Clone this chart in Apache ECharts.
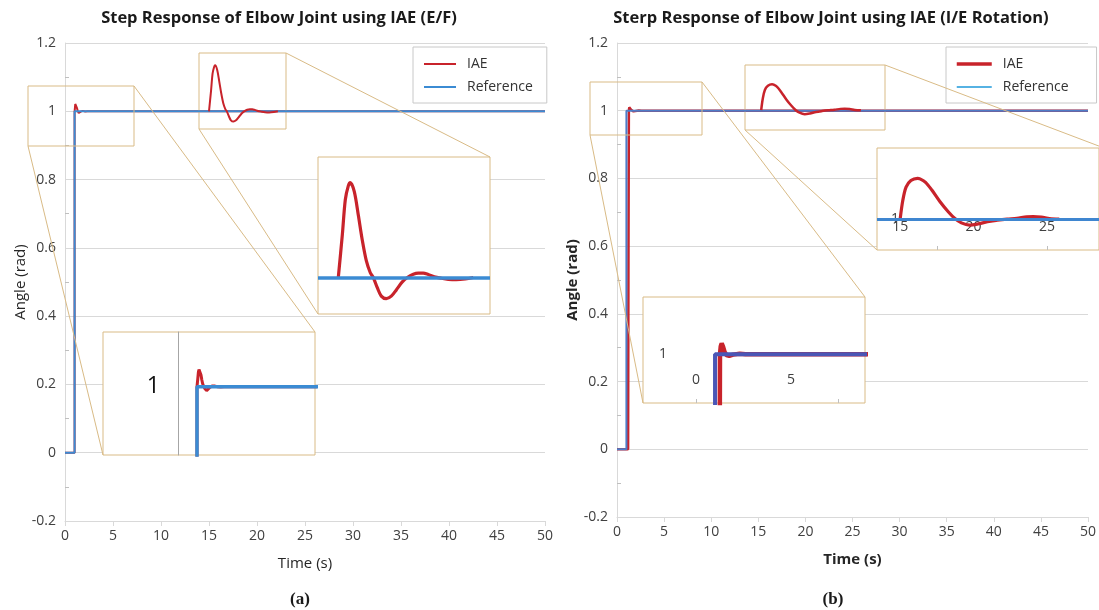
<!DOCTYPE html>
<html>
<head>
<meta charset="utf-8">
<script src="https://cdn.jsdelivr.net/npm/echarts@6/dist/echarts.min.js"></script>
<style>
    html, body { margin: 0; padding: 0; background: #fff; }
    #main { width: 1099px; height: 610px; }
</style>
</head>
<body>
<div id="main"></div>
<script>
// axis ticks of both main plots
var timeTicks = [0, 5, 10, 15, 20, 25, 30, 35, 40, 45, 50];
var angleTicks = [-0.2, 0, 0.2, 0.4, 0.6, 0.8, 1, 1.2];

// reference step (s, rad), same for both joints
var refT = [0, 1, 1, 50];
var refV = [0, 0, 1, 1];

// IAE response, E/F (s, rad)
var iaeLeftT = [0, 1.00, 1.00, 1.04, 1.07, 1.10, 1.12, 1.16, 1.20, 1.24, 1.28, 1.32, 1.35, 1.39, 1.43,
    1.48, 1.53, 1.58, 1.64, 1.69, 1.75, 1.80, 1.85, 1.90, 1.96, 2.03, 2.10, 2.18, 2.27, 2.35, 50];
var iaeLeftV = [0, 0, 1.0, 1.0116, 1.0213, 1.0251, 1.0260, 1.0235, 1.0171, 1.0102, 1.0046, 1.0013, 1.0, 0.9972, 0.9949,
    0.9942, 0.9949, 0.9966, 0.9988, 1.0, 1.0009, 1.0012, 1.0012, 1.0008, 1.0002, 0.9998, 0.9995, 0.9994, 0.9996, 1.0, 1.0];

// IAE response, I/E rotation (s, rad)
var iaeRightT = [0, 1.18, 1.22, 1.26, 1.30, 1.35, 1.42, 1.50, 1.60, 1.75, 1.95, 2.30, 2.60, 50];
var iaeRightV = [0, 0, 0.6, 1.0, 1.010, 1.014, 1.010, 1.003, 0.999, 0.998, 0.9995, 1.0007, 1.0, 1.0];

// I/E rotation overshoot as printed in the zoom box (box axis units)
var zoomRightT = [15.00, 15.18, 15.40, 15.73, 16.18, 16.35, 16.73, 17.17, 17.73, 18.29, 18.73, 19.17,
    19.73, 20.29, 20.95, 21.62, 22.29, 22.95, 23.62, 24.07, 24.62, 25.18, 25.84];
var zoomRightV = [1.0, 1.0065, 1.0111, 1.0134, 1.0142, 1.0140, 1.0128, 1.0100, 1.0059, 1.0024, 1.0001, 0.9986,
    0.9978, 0.9982, 0.9990, 0.9995, 0.9999, 1.0002, 1.0007, 1.0008, 1.0006, 1.0001, 0.9999];

var FONT = '"Open Sans", "Liberation Sans", sans-serif';
var TAN = '#d9bb86';
var RED = '#c8232b';
var BLUE = '#3b8bd3';
var BLUE_R = '#4d7cc8';
var BLUE_DEEP = '#4a56b6';
var GRAY = '#d9d9d9';
var LABEL = '#404040';

// layout boxes (px)
var mainL = {x: 65, y: 43, w: 480, h: 478};
var mainR = {x: 617, y: 43, w: 473, h: 474};
var srcL = {x: 28, y: 86, w: 106, h: 60};
var srcR = {x: 590, y: 82, w: 112, h: 53};
var boxL1 = {x: 103, y: 332, w: 212, h: 123};
var boxTL = {x: 199, y: 53, w: 87, h: 76};
var boxL2 = {x: 318, y: 157, w: 172, h: 157};
var boxR1 = {x: 643, y: 297, w: 222, h: 106};
var boxTR = {x: 745, y: 65, w: 140, h: 65};
var boxR2 = {x: 877, y: 148, w: 227, h: 102};

function pairs(t, v) {
    return t.map(function (x, i) { return [x, v[i]]; });
}

function gridOf(b, extra) {
    var g = {left: b.x, top: b.y, width: b.w, height: b.h};
    for (var k in extra) { g[k] = extra[k]; }
    return g;
}

function hiddenAxis(grid, min, max) {
    return {gridIndex: grid, type: 'value', min: min, max: max, show: false};
}

function labelAxis(grid, min, max, labels, ticks, margin, size) {
    return {
        gridIndex: grid, type: 'value', min: min, max: max, z: 4,
        axisLine: {show: false, onZero: false},
        axisTick: ticks ? {show: true, inside: true, length: 4, customValues: ticks, lineStyle: {color: '#bfbfbf'}} : {show: false},
        splitLine: {show: false},
        axisLabel: {inside: true, customValues: labels, margin: margin, fontSize: size || 14, color: LABEL, fontFamily: FONT}
    };
}

function mainX(grid, bold) {
    return {
        gridIndex: grid, type: 'value',
        min: timeTicks[0], max: timeTicks[timeTicks.length - 1], interval: timeTicks[1] - timeTicks[0],
        name: 'Time (s)', nameLocation: 'middle', nameGap: 35,
        nameTextStyle: {fontSize: 15, color: '#262626', fontFamily: FONT, fontWeight: bold ? 'bold' : 'normal'},
        axisLine: {onZero: false, lineStyle: {color: GRAY}},
        axisTick: {length: 5, lineStyle: {color: GRAY}},
        axisLabel: {color: LABEL, fontSize: 14, margin: 8, fontFamily: FONT},
        splitLine: {show: false}
    };
}

function mainY(grid, bold) {
    return {
        gridIndex: grid, type: 'value',
        min: angleTicks[0], max: angleTicks[angleTicks.length - 1], interval: angleTicks[2] - angleTicks[1],
        name: 'Angle (rad)', nameLocation: 'middle', nameGap: 36,
        nameTextStyle: {fontSize: 15, color: '#262626', fontFamily: FONT, fontWeight: bold ? 'bold' : 'normal'},
        axisLine: {show: true, onZero: false, lineStyle: {color: GRAY}},
        axisTick: {show: false, inside: true},
        minorTick: {show: true, splitNumber: 2, length: 4, lineStyle: {color: '#bfbfbf'}},
        splitLine: {lineStyle: {color: GRAY}},
        axisLabel: {color: LABEL, fontSize: 14, margin: 9, fontFamily: FONT}
    };
}

function line(xi, data, color, width, z, extra) {
    var s = {
        type: 'line', xAxisIndex: xi, yAxisIndex: xi, data: data,
        symbol: 'none', showSymbol: false, silent: true, z: z,
        lineStyle: {color: color, width: width}, itemStyle: {color: color}
    };
    for (var k in extra) { s[k] = extra[k]; }
    return s;
}

function refMark(color, width) {
    return {
        silent: true, symbol: 'none', label: {show: false}, z: 6,
        lineStyle: {color: color, width: width, type: 'solid'},
        data: [{yAxis: refV[refV.length - 1]}]
    };
}

function corner(b, which) {
    return which === 'bl' ? [b.x, b.y + b.h] : [b.x + b.w, b.y];
}

function connector(a, b, which) {
    var p = corner(a, which), q = corner(b, which);
    return {type: 'line', z: 10, silent: true, shape: {x1: p[0], y1: p[1], x2: q[0], y2: q[1]},
        style: {stroke: TAN, lineWidth: 1}};
}

function frame(b, fill, z) {
    return {type: 'rect', z: z, silent: true, shape: {x: b.x, y: b.y, width: b.w, height: b.h},
        style: {fill: fill, stroke: TAN, lineWidth: 1}};
}

function label(text, x, y, font) {
    return {type: 'text', z: 10, silent: true, x: x, y: y,
        style: {text: text, font: font, fill: '#1a1a1a', align: 'center', verticalAlign: 'middle',
            textAlign: 'center', textVerticalAlign: 'middle'}};
}

var leftMain = pairs(iaeLeftT, iaeLeftV);
var leftZoom = leftMain.slice(2, -1);
var rightMain = pairs(iaeRightT, iaeRightV);
var rightZoom = pairs(zoomRightT, zoomRightV);
var reference = pairs(refT, refV);

// legend: plain line icons, the symbol dot is hidden
var legendBase = {
    orient: 'vertical', backgroundColor: '#fff', borderColor: '#c8c8c8', borderWidth: 1,
    itemGap: 9, itemHeight: 14, selectedMode: false,
    itemStyle: {opacity: 0},
    textStyle: {fontSize: 14, color: '#333', fontFamily: FONT, padding: [0, 0, 0, 6]}
};

var option = {
    animation: false,
    backgroundColor: '#fff',
    legend: [
        Object.assign({}, legendBase, {
            left: 413, top: 47, itemWidth: 32, padding: [10, 14, 9, 10],
            data: ['IAE', 'Reference']
        }),
        Object.assign({}, legendBase, {
            left: 946, top: 47, itemWidth: 35, padding: [10, 28, 9, 9],
            data: [
                {name: 'IAE', lineStyle: {color: RED, width: 3.5}},
                {name: 'Reference', lineStyle: {color: '#56b2e3', width: 2}}
            ]
        })
    ],
    grid: [
        gridOf(mainL),
        gridOf(mainR),
        {left: boxL1.x + 75, top: boxL1.y, width: boxL1.w - 75, height: boxL1.h, z: 3},
        gridOf(boxTL, {show: true, borderColor: TAN, backgroundColor: 'transparent', z: 3}),
        gridOf(boxL2, {show: true, borderColor: TAN, backgroundColor: '#fff', z: 3}),
        gridOf(boxR1, {show: true, borderColor: TAN, backgroundColor: '#fff', z: 3}),
        gridOf(boxTR, {show: true, borderColor: TAN, backgroundColor: 'transparent', z: 3}),
        gridOf(boxR2, {show: true, borderColor: TAN, backgroundColor: '#fff', z: 3})
    ],
    xAxis: [
        mainX(0, false),
        mainX(1, true),
        hiddenAxis(2, 0.05, 6.9),
        hiddenAxis(3, 0.804, 2.51),
        hiddenAxis(4, 0.797, 2.517),
        labelAxis(5, -2.79, 8.89, [0, 5], [0, 7.5], 16),
        hiddenAxis(6, 13.24, 28.46),
        labelAxis(7, 13.42, 28.55, [15, 20, 25], [17.5, 25], 16)
    ],
    yAxis: [
        mainY(0, false),
        mainY(1, true),
        {
            gridIndex: 2, type: 'value', min: 0.9, max: 1.08, z: 4,
            axisLine: {show: true, onZero: false, lineStyle: {color: '#a6a6a6'}},
            axisTick: {show: false}, splitLine: {show: false},
            axisLabel: {customValues: [1], fontSize: 23, color: '#111', margin: 18, fontFamily: FONT}
        },
        hiddenAxis(3, 0.99, 1.033),
        hiddenAxis(4, 0.99, 1.033),
        labelAxis(5, 0.937, 1.074, [1], null, 16),
        hiddenAxis(6, 0.9891, 1.0248),
        labelAxis(7, 0.9891, 1.0248, [1], null, 14)
    ],
    series: [
        line(0, leftMain, RED, 2, 2, {name: 'IAE'}),
        line(0, reference, BLUE, 2, 3, {name: 'Reference'}),
        line(1, rightMain, RED, 2.5, 2, {name: 'IAE'}),
        line(1, reference, BLUE_R, 2, 3, {name: 'Reference'}),
        line(2, leftMain, RED, 3, 5),
        line(2, reference, BLUE, 3.5, 6),
        line(3, leftZoom, RED, 2, 5, {smooth: 0.3}),
        line(4, leftZoom, RED, 3.2, 5, {smooth: 0.3, markLine: refMark(BLUE, 3.5)}),
        line(5, rightMain, RED, 4.5, 5),
        line(5, reference, BLUE_DEEP, 4, 6),
        line(6, rightZoom, RED, 2.5, 5, {smooth: 0.3}),
        line(7, rightZoom, RED, 3.2, 5, {smooth: 0.3, markLine: refMark('#3f86d0', 3)})
    ],
    graphic: {
        elements: [
            label('Step Response of Elbow Joint using IAE (E/F)', 279, 18, 'bold 16.5px ' + FONT),
            label('Sterp Response of Elbow Joint using IAE (I/E Rotation)', 831, 18, 'bold 16.5px ' + FONT),
            label('(a)', 300, 600, 'bold 17px "Liberation Serif", "DejaVu Serif", serif'),
            label('(b)', 833, 600, 'bold 17px "Liberation Serif", "DejaVu Serif", serif'),
            frame(srcL, 'none', 10),
            frame(srcR, 'none', 10),
            frame(boxL1, '#fff', 3),
            connector(srcL, boxL1, 'bl'),
            connector(srcL, boxL1, 'tr'),
            connector(boxTL, boxL2, 'bl'),
            connector(boxTL, boxL2, 'tr'),
            connector(srcR, boxR1, 'bl'),
            connector(srcR, boxR1, 'tr'),
            connector(boxTR, boxR2, 'bl'),
            connector(boxTR, boxR2, 'tr')
        ]
    }
};

var chart = echarts.init(document.getElementById('main'));
chart.setOption(option);
</script>
</body>
</html>
